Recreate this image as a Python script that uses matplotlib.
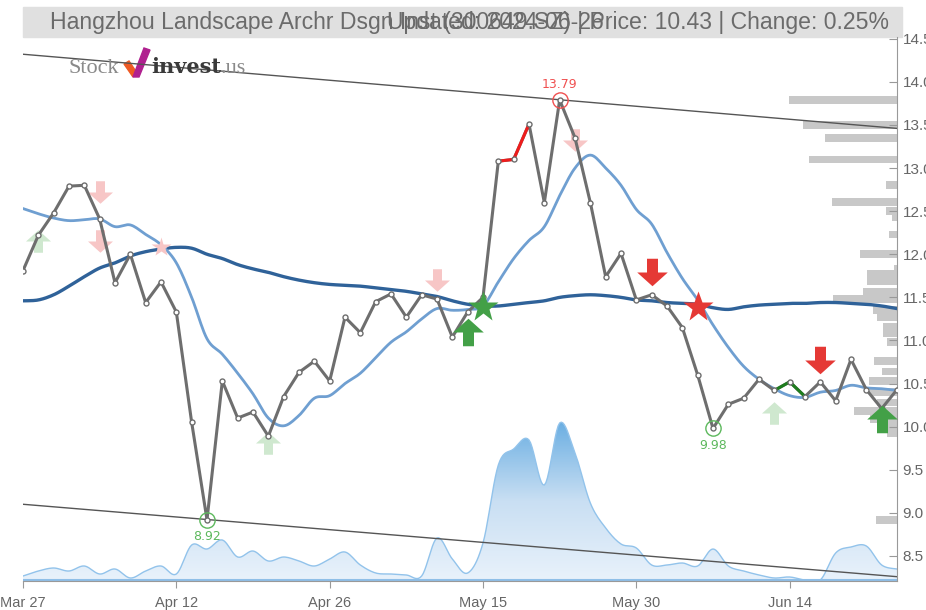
import numpy as np
import matplotlib
matplotlib.use("Agg")
import matplotlib.pyplot as plt
from matplotlib.path import Path
from matplotlib.patches import Rectangle, PathPatch, Polygon
from matplotlib.colors import LinearSegmentedColormap

plt.rcParams['font.family'] = ['Liberation Sans', 'DejaVu Sans']

# ---- data ----
tick_pos = [0, 10, 20, 30, 40, 50]
tick_labels = ['Mar 27', 'Apr 12', 'Apr 26', 'May 15', 'May 30', 'Jun 14']

close = [11.81, 12.22, 12.48, 12.79, 12.80, 12.41, 11.67, 12.00, 11.44, 11.68,
         11.33, 10.05, 8.92, 10.53, 10.10, 10.17, 9.89, 10.35, 10.63, 10.76,
         10.53, 11.27, 11.09, 11.45, 11.54, 11.27, 11.53, 11.48, 11.04, 11.33,
         11.50, 13.08, 13.10, 13.51, 12.60, 13.79, 13.35, 12.60, 11.74, 12.01,
         11.47, 11.53, 11.40, 11.15, 10.60, 9.98, 10.26, 10.33, 10.55, 10.42,
         10.52, 10.35, 10.52, 10.30, 10.78, 10.43, 10.21, 10.43]

ma_fast = [12.53, 12.47, 12.42, 12.39, 12.40, 12.41, 12.32, 12.34, 12.23, 12.11,
           11.90, 11.50, 11.02, 10.84, 10.62, 10.38, 10.10, 10.01, 10.13, 10.33,
           10.36, 10.50, 10.62, 10.80, 10.98, 11.10, 11.25, 11.37, 11.35, 11.36,
           11.40, 11.68, 11.95, 12.16, 12.32, 12.68, 13.00, 13.15, 13.00, 12.80,
           12.52, 12.35, 12.02, 11.72, 11.47, 11.18, 10.92, 10.70, 10.55, 10.44,
           10.36, 10.34, 10.40, 10.42, 10.48, 10.45, 10.44, 10.42]

ma_slow = [11.46, 11.47, 11.53, 11.63, 11.74, 11.84, 11.90, 11.98, 12.03, 12.06,
           12.08, 12.07, 12.00, 11.95, 11.88, 11.83, 11.79, 11.74, 11.70, 11.67,
           11.65, 11.64, 11.63, 11.61, 11.59, 11.57, 11.54, 11.51, 11.46, 11.42,
           11.40, 11.40, 11.42, 11.44, 11.46, 11.50, 11.52, 11.53, 11.52, 11.50,
           11.47, 11.46, 11.44, 11.43, 11.42, 11.38, 11.36, 11.39, 11.41, 11.42,
           11.43, 11.43, 11.44, 11.44, 11.43, 11.42, 11.40, 11.37]

volume = [0.5, 1.0, 1.3, 1.0, 1.5, 0.7, 1.2, 0.3, 1.0, 1.5,
          0.7, 3.6, 3.2, 4.1, 2.4, 3.0, 2.0, 2.4, 2.0, 1.5,
          2.2, 2.9, 1.6, 0.8, 0.7, 0.6, 0.5, 4.3, 2.2, 0.8,
          3.8, 11.6, 13.2, 14.1, 9.6, 15.8, 12.8, 7.8, 5.3, 3.7,
          3.3, 1.6, 1.6, 1.8, 1.5, 3.2, 1.5, 1.0, 0.6, 0.3,
          0.4, 0.1, 0.1, 2.8, 3.4, 3.5, 1.6, 1.2]

# price-volume profile (right side bars)
prof_price = [13.79, 13.50, 13.35, 13.10, 12.80, 12.61, 12.50, 12.43, 12.23, 12.00,
              11.83, 11.77, 11.69, 11.56, 11.48, 11.35, 11.27, 11.16, 11.08, 10.98,
              10.76, 10.64, 10.53, 10.40, 10.28, 10.18, 10.09, 10.00, 9.93, 8.92]
prof_vol = [108, 94, 72, 88, 11, 65, 11, 5, 8, 37,
            3, 30, 30, 34, 64, 24, 20, 14, 14, 10,
            23, 15, 28, 27, 20, 43, 27, 14, 10, 21]

# trend channel (start / end values)
upper_trend = [14.32, 13.46]
lower_trend = [9.10, 8.26]

# signals
sig_idx = [1, 16, 49, 5, 5, 27, 36, 9, 29, 56, 30, 41, 52, 44]
sig_price = [12.15, 9.81, 10.16, 12.72, 12.15, 11.70, 13.33, 12.08,
             11.10, 10.09, 11.39, 11.79, 10.77, 11.39]
sig_kind = ['up', 'up', 'up', 'down', 'down', 'down', 'down', 'star',
            'up', 'up', 'star', 'down', 'down', 'star']
sig_side = ['buy', 'buy', 'buy', 'sell', 'sell', 'sell', 'sell', 'sell',
            'buy', 'buy', 'buy', 'sell', 'sell', 'sell']
sig_strong = [False] * 8 + [True] * 6

# highlighted extremes
ext_idx = [35, 12, 45]
ext_kind = ['high', 'low', 'low']

# coloured segments (start index of segment)
red_segs = [31, 32]
green_segs = [49, 50]

title = 'Hangzhou Landscape Archr Dsgn Inst (300649.SZ) | Price: 10.43 | Change: 0.25%'
updated = 'Updated: 2024-06-26'


def smooth(xs, ys, n=10):
    """Catmull-Rom curve through the points (for drawing only)."""
    xs = np.asarray(xs, float)
    ys = np.asarray(ys, float)
    px, py = [], []
    m = len(xs)
    for i in range(m - 1):
        i0, i3 = max(i - 1, 0), min(i + 2, m - 1)
        t = np.linspace(0, 1, n, endpoint=False)
        for arr, out in ((xs, px), (ys, py)):
            p0, p1, p2, p3 = arr[i0], arr[i], arr[i + 1], arr[i3]
            out.extend(0.5 * ((2 * p1) + (-p0 + p2) * t +
                              (2 * p0 - 5 * p1 + 4 * p2 - p3) * t ** 2 +
                              (-p0 + 3 * p1 - 3 * p2 + p3) * t ** 3))
    px.append(xs[-1])
    py.append(ys[-1])
    return np.array(px), np.array(py)


up_arrow = [(0, 0.45), (0.5, 0.0), (0.18, 0.0), (0.18, -0.45),
            (-0.18, -0.45), (-0.18, 0.0), (-0.5, 0.0), (0, 0.45)]
down_arrow = [(x, -y) for x, y in up_arrow]

fig = plt.figure(figsize=(9.26, 6.10), dpi=100)
W, H = 926, 610
ax = fig.add_axes([23 / W, 1 - 581 / H, 874 / W, 544 / H])

x = np.arange(len(close))
ax.set_xlim(0, len(close) - 1)
ax.set_ylim(8.21, 14.52)

# volume area on its own scale
axv = ax.twinx()
axv.set_ylim(0, 54.4)
axv.set_xlim(ax.get_xlim())
axv.axis('off')
axv.set_zorder(0)
ax.set_zorder(1)
ax.patch.set_visible(False)
vx, vy = smooth(x, volume)
vy = np.clip(vy, 0, None)
verts = np.column_stack([np.r_[vx, vx[-1], vx[0]], np.r_[vy, 0, 0]])
poly = PathPatch(Path(verts), facecolor='none', edgecolor='none')
axv.add_patch(poly)
cmap = LinearSegmentedColormap.from_list('vol', ['#e9f2fb', '#c9dff3', '#6aaee2'])
grad = np.linspace(0, 1, 256).reshape(-1, 1)
img = axv.imshow(grad, extent=(0, len(close) - 1, 0, 16), origin='lower',
                 aspect='auto', cmap=cmap, zorder=1)
img.set_clip_path(poly)
axv.plot(vx, vy, color='#92c3eb', lw=1, zorder=2)
axv.axhline(0.15, color='#8fbfe8', lw=1.5, zorder=2)

# price-volume profile
axp = ax.twiny()
axp.set_xlim(874, 0)
axp.set_ylim(ax.get_ylim())
axp.barh(prof_price, prof_vol, height=0.09, color='#c8c8c8', zorder=1)
axp.axis('off')
axp.set_zorder(0.5)

# trend channel
ax.plot([0, len(close) - 1], upper_trend, color='#555555', lw=1, zorder=2)
ax.plot([0, len(close) - 1], lower_trend, color='#555555', lw=1, zorder=2)

# moving averages
sx, sy = smooth(x, ma_slow)
ax.plot(sx, sy, color='#2f6299', lw=2.4, zorder=3)
fx, fy = smooth(x, ma_fast)
ax.plot(fx, fy, color='#6f9fd1', lw=2, zorder=3)

# pale signals under the price line
for i, p, k, s, strong in zip(sig_idx, sig_price, sig_kind, sig_side, sig_strong):
    if strong:
        continue
    col = '#cfe8cf' if s == 'buy' else '#f7c6c6'
    if k == 'star':
        ax.plot(i, p, marker='*', ms=15, color=col, mec='none', zorder=3.5)
    else:
        ax.plot(i, p, marker=up_arrow if k == 'up' else down_arrow, ms=18,
                color=col, mec='none', zorder=3.5)

# price line
ax.plot(x, close, color='#6e6e6e', lw=2.2, zorder=4)
for s in red_segs:
    ax.plot(x[s:s + 2], close[s:s + 2], color='#ee1c1c', lw=2.2, zorder=4.1)
for s in green_segs:
    ax.plot(x[s:s + 2], close[s:s + 2], color='#1e7d1e', lw=2.2, zorder=4.1)
ax.plot(x, close, ls='none', marker='o', ms=3.6, mfc='white', mec='#6e6e6e',
        mew=1, zorder=4.2)

# strong signals
for i, p, k, s, strong in zip(sig_idx, sig_price, sig_kind, sig_side, sig_strong):
    if not strong:
        continue
    col = '#43a047' if s == 'buy' else '#e53935'
    if k == 'star':
        ax.plot(i, p, marker='*', ms=23, color=col, mec='none', zorder=5)
    else:
        ax.plot(i, p, marker=up_arrow if k == 'up' else down_arrow, ms=22,
                color=col, mec='none', zorder=5)

# extremes
for i, k in zip(ext_idx, ext_kind):
    col = '#f05050' if k == 'high' else '#5cb85c'
    ax.plot(i, close[i], marker='o', ms=11, mfc='none', mec=col, mew=1, zorder=5)
    off = 11 if k == 'high' else -12
    ax.annotate(f'{close[i]:.2f}', (i, close[i]), xytext=(0, off),
                textcoords='offset points', ha='center', va='center',
                color=col, fontsize=9, family=['DejaVu Sans'], zorder=6)

# axes styling
for side in ['left', 'top']:
    ax.spines[side].set_visible(False)
ax.spines['right'].set_color('#999999')
ax.spines['bottom'].set_color('#999999')
ax.yaxis.tick_right()
ax.set_yticks(np.arange(8.5, 14.51, 0.5))
ax.set_yticklabels([f'{v:.1f}' for v in np.arange(8.5, 14.51, 0.5)])
ax.tick_params(axis='y', direction='in', length=6, color='#999999',
               labelcolor='#666666', labelsize=11, pad=4)
ax.set_xticks(tick_pos)
ax.set_xticklabels(tick_labels)
ax.tick_params(axis='x', direction='out', length=5, color='#999999',
               labelcolor='#666666', labelsize=10.5, pad=6)

# title bar
fig.add_artist(Rectangle((23 / W, 1 - 37 / H), 879 / W, 30 / H,
                         transform=fig.transFigure, color='#e0e0e0', zorder=0))
fig.text(469 / W, 1 - 22 / H, title, ha='center', va='center',
         fontsize=16.6, color='#6b6b6b')
fig.text(495 / W, 1 - 22 / H, updated, ha='center', va='center',
         fontsize=16.6, color='#6b6b6b')

# logo
fig.text(68 / W, 1 - 73 / H, 'Stock', fontsize=16, color='#8a8a8a',
         family=['Liberation Serif'], va='baseline')
fig.add_artist(Polygon([(124 / W, 1 - 64 / H), (129 / W, 1 - 61 / H),
                        (135 / W, 1 - 70 / H), (133 / W, 1 - 77 / H)],
                       closed=True, color='#ee5a24', transform=fig.transFigure))
fig.add_artist(Polygon([(133 / W, 1 - 77 / H), (144 / W, 1 - 48 / H),
                        (150 / W, 1 - 50 / H), (139 / W, 1 - 77 / H)],
                       closed=True, color='#b0208f', transform=fig.transFigure))
inv = fig.text(151 / W, 1 - 73 / H, 'invest', fontsize=15, color='#3a3a3a',
               fontweight='bold', family=['DejaVu Serif'], va='baseline')
fig.canvas.draw()
bb = inv.get_window_extent(fig.canvas.get_renderer())
fig.text(bb.x1 / W, 1 - 73 / H, '.us', fontsize=16, color='#8a8a8a',
         family=['Liberation Serif'], va='baseline')

fig.savefig('out.png', dpi=100)
